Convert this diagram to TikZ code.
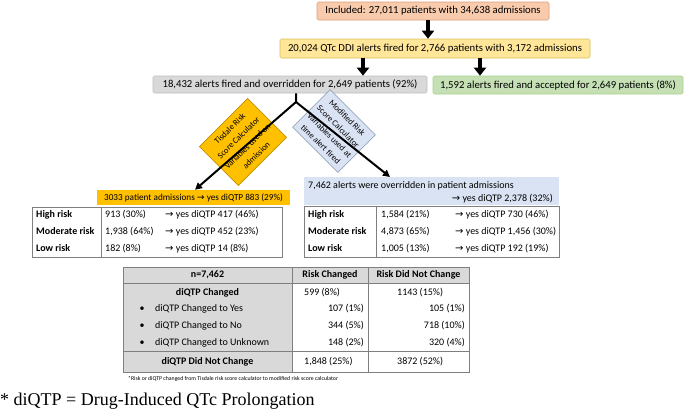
\documentclass[tikz,border=0pt]{standalone}
\usepackage{fontspec}
\setmainfont{Carlito}
\newfontfamily\serifff{Liberation Serif}
\newfontfamily\arrff{DejaVu Sans}
\usetikzlibrary{arrows.meta,calc}
\newcommand{\myarr}{{\arrff\char"2192}}
\definecolor{salmon}{HTML}{F8CBAD}
\definecolor{salmonb}{HTML}{D9A07A}
\definecolor{yel}{HTML}{FFE699}
\definecolor{yelb}{HTML}{D6BF5A}
\definecolor{lgray}{HTML}{D9D9D9}
\definecolor{lgrayb}{HTML}{BFBFBF}
\definecolor{grn}{HTML}{C5E0B4}
\definecolor{grnb}{HTML}{A9D18E}
\definecolor{org}{HTML}{FFC000}
\definecolor{orgb}{HTML}{BF9000}
\definecolor{lblue}{HTML}{DAE3F3}
\definecolor{lblueb}{HTML}{8497B0}
\definecolor{tabline}{HTML}{7F7F7F}
\begin{document}
\begin{tikzpicture}[x=1pt,y=-1pt,
  fbox/.style={rounded corners=1.5pt, line width=0.6pt, inner sep=0pt, font=\fontsize{10.7}{12}\selectfont},
  blk/.style={line width=4.5pt, -{Triangle[width=12pt,length=8pt]}},
  conn/.style={line width=2pt, -{Triangle[width=7pt,length=7pt]}},
  tabl/.style={draw=tabline, line width=0.8pt},
  tx/.style={font=\fontsize{10}{11}\selectfont, inner sep=0pt},
  txb/.style={font=\fontsize{10}{11}\selectfont\bfseries, inner sep=0pt},
  rot/.style={line width=0.6pt, inner sep=0pt, align=center, font=\fontsize{8.5}{12.5}\selectfont},
]
\useasboundingbox (0,0) rectangle (685,415);

% flow boxes
\node[fbox, fill=salmon, draw=salmonb, minimum width=232, minimum height=18] (b1) at (433,11) {Included: 27,011 patients with 34,638 admissions};
\node[fbox, fill=yel, draw=yelb, minimum width=310, minimum height=19] (b2) at (435,48.5) {20,024 QTc DDI alerts fired for 2,766 patients with 3,172 admissions};
\node[fbox, fill=lgray, draw=lgrayb, minimum width=274, minimum height=17] (b3) at (290,84.5) {18,432 alerts fired and overridden for 2,649 patients (92\%)};
\node[fbox, fill=grn, draw=grnb, minimum width=250, minimum height=18] (b4) at (558,85) {1,592 alerts fired and accepted for 2,649 patients (8\%)};

% rotated calculator boxes
\node[rot, fill=org, draw=orgb, rotate=45, minimum width=68, minimum height=55] (tis) at (243,142) {Tisdale Risk\\Score Calculator\\Variables used on\\admission};
\node[rot, fill=lblue, draw=lblueb, rotate=-45, minimum width=64, minimum height=53] (mod) at (334,131) {Modified Risk\\Score Calculator\\Variables used at\\time alert fired};

% orange bar + left table
\node[fill=org, inner sep=0pt, minimum width=193, minimum height=15, font=\fontsize{9.2}{10}\selectfont] (orbar) at (193.5,197.5) {3033 patient admissions \myarr\ yes diQTP 883 (29\%)};
\node[tabl, minimum width=250, minimum height=50, anchor=north west, inner sep=0pt] (lt) at (32,207) {};
\draw[tabl] (lt.north west -| 101,0) -- (lt.south west -| 101,0);
\node[txb, anchor=mid west] (l1a) at (36,215) {High risk};
\node[txb, anchor=mid west] (l2a) at (36,232) {Moderate risk};
\node[txb, anchor=mid west] (l3a) at (36,249) {Low risk};
\node[tx, anchor=mid west] (l1b) at (105,215) {913 (30\%)};
\node[tx, anchor=mid west] (l2b) at (105,232) {1,938 (64\%)};
\node[tx, anchor=mid west] (l3b) at (105,249) {182 (8\%)};
\node[tx, anchor=mid west] (l1c) at (165,215) {\myarr\ yes diQTP 417 (46\%)};
\node[tx, anchor=mid west] (l2c) at (165,232) {\myarr\ yes diQTP 452 (23\%)};
\node[tx, anchor=mid west] (l3c) at (165,249) {\myarr\ yes diQTP 14 (8\%)};

% right header + table
\node[fill=lblue, inner sep=0pt, minimum width=255, minimum height=28, anchor=north west] (bh) at (304,177) {};
\node[tx, anchor=mid west] (bh1) at (308,186) {7,462 alerts were overridden in patient admissions};
\node[tx, anchor=mid east] (bh2) at (553,199) {\myarr\ yes diQTP 2,378 (32\%)};
\node[tabl, minimum width=255, minimum height=51, anchor=north west, inner sep=0pt] (rt) at (304,206) {};
\draw[tabl] (rt.north west -| 376,0) -- (rt.south west -| 376,0);
\node[txb, anchor=mid west] (r1a) at (308,215) {High risk};
\node[txb, anchor=mid west] (r2a) at (308,232) {Moderate risk};
\node[txb, anchor=mid west] (r3a) at (308,249) {Low risk};
\node[tx, anchor=mid west] (r1b) at (381,215) {1,584 (21\%)};
\node[tx, anchor=mid west] (r2b) at (381,232) {4,873 (65\%)};
\node[tx, anchor=mid west] (r3b) at (381,249) {1,005 (13\%)};
\node[tx, anchor=mid west] (r1c) at (455,215) {\myarr\ yes diQTP 730 (46\%)};
\node[tx, anchor=mid west] (r2c) at (455,232) {\myarr\ yes diQTP 1,456 (30\%)};
\node[tx, anchor=mid west] (r3c) at (455,249) {\myarr\ yes diQTP 192 (19\%)};

% connectors
\coordinate (a1) at (428,0);
\coordinate (a2) at (363,0);
\coordinate (a3) at (480,0);
\coordinate (j) at (296,102);
\coordinate (tl) at (195,0);
\coordinate (tr) at (390,0);
\draw[blk] (b1.south -| a1) -- (b2.north -| a1);
\draw[blk] (b2.south -| a2) -- (b3.north -| a2);
\draw[blk] (b2.south -| a3) -- (b4.north -| a3);
\draw[conn, line join=round] (b3.south -| j) -- (j) -- (orbar.north -| tl);
\draw[conn] (j) -- (bh.north -| tr);

% bottom table
\fill[lgray] (123,267) rectangle (469,283);
\fill[lgray] (123,283) rectangle (292,372);
\draw[tabl] (123,267) rectangle (469,372);
\draw[tabl] (292,267) -- (292,372);
\draw[tabl] (368,267) -- (368,372);
\draw[tabl] (123,283) -- (469,283);
\draw[tabl] (123,351) -- (469,351);
\node[txb] (h1) at (207.5,275) {n=7,462};
\node[txb] (h2) at (330,275) {Risk Changed};
\node[txb] (h3) at (418.5,275) {Risk Did Not Change};
\node[txb] (c1) at (207.5,293) {diQTP Changed};
\node[tx, anchor=mid west] (c2) at (304,293) {599 (8\%)};
\node[tx, anchor=mid west] (c3) at (397,293) {1143 (15\%)};
\node[tx] (y0) at (142,309) {\textbullet};
\node[tx, anchor=mid west] (y1) at (155,309) {diQTP Changed to Yes};
\node[tx, anchor=mid east] (y2) at (364,309) {107 (1\%)};
\node[tx, anchor=mid east] (y3) at (465,309) {105 (1\%)};
\node[tx] (n0) at (142,326) {\textbullet};
\node[tx, anchor=mid west] (n1) at (155,326) {diQTP Changed to No};
\node[tx, anchor=mid east] (n2) at (364,326) {344 (5\%)};
\node[tx, anchor=mid east] (n3) at (465,326) {718 (10\%)};
\node[tx] (u0) at (142,343) {\textbullet};
\node[tx, anchor=mid west] (u1) at (155,343) {diQTP Changed to Unknown};
\node[tx, anchor=mid east] (u2) at (364,343) {148 (2\%)};
\node[tx, anchor=mid east] (u3) at (465,343) {320 (4\%)};
\node[txb] (d1) at (207.5,362) {diQTP Did Not Change};
\node[tx, anchor=mid west] (d2) at (304,362) {1,848 (25\%)};
\node[tx, anchor=mid west] (d3) at (397,362) {3872 (52\%)};
\node[inner sep=0pt, anchor=mid west, font=\fontsize{5.8}{6}\selectfont] (fn) at (128,378) {*Risk or diQTP changed from Tisdale risk score calculator to modified risk score calculator};

\node[inner sep=0pt, anchor=mid west, font=\serifff\fontsize{18}{20}\selectfont] (leg) at (0,403) {* diQTP = Drug-Induced QTc Prolongation};
\end{tikzpicture}
\end{document}
